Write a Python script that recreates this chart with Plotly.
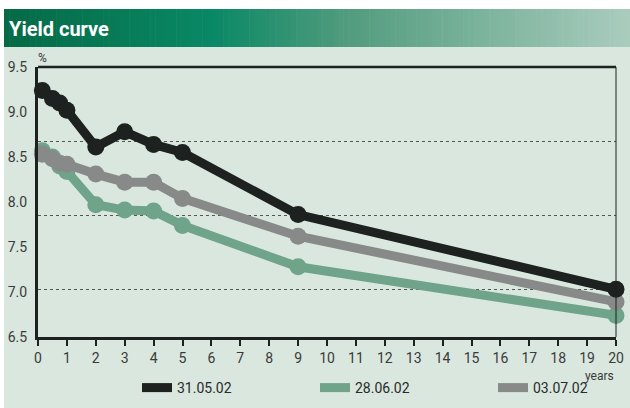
import plotly.graph_objects as go

# Maturities (years) and yields (%) for three dates
maturities = [0.15, 0.5, 0.75, 1, 2, 3, 4, 5, 9, 20]
yield_310502 = [9.24, 9.15, 9.10, 9.02, 8.61, 8.78, 8.64, 8.55, 7.86, 7.03]
yield_280602 = [8.57, 8.50, 8.40, 8.34, 7.97, 7.91, 7.90, 7.74, 7.28, 6.74]
yield_030702 = [8.53, 8.48, 8.43, 8.42, 8.31, 8.22, 8.22, 8.04, 7.62, 6.89]
series_names = ["31.05.02", "28.06.02", "03.07.02"]
series_colors = ["#1d211f", "#6fa38a", "#878a89"]

x_ticks = list(range(0, 21))
y_ticks = [6.5, 7.0, 7.5, 8.0, 8.5, 9.0, 9.5]
grid_levels = [7.03, 7.852, 8.676]

W, H = 630, 408
L, R, T, B = 38, 14, 67, 71
PW, PH = W - L - R, H - T - B
FONT = "Roboto, Noto Sans, sans-serif"


def px(xp):
    return (xp - L) / PW


def py(yp):
    return 1 - (yp - T) / PH


fig = go.Figure()

# data lines: green under grey under black
for name, ys, col in [(series_names[1], yield_280602, series_colors[1]),
                      (series_names[2], yield_030702, series_colors[2]),
                      (series_names[0], yield_310502, series_colors[0])]:
    fig.add_trace(go.Scatter(
        x=maturities, y=ys, mode="lines+markers", name=name,
        line=dict(color=col, width=9), marker=dict(color=col, size=17),
        cliponaxis=False, showlegend=False, hoverinfo="x+y+name"))

# legend entries
for name, col in zip(series_names, series_colors):
    fig.add_trace(go.Scatter(
        x=[None], y=[None], mode="lines", name=name,
        line=dict(color=col, width=9)))

shapes = []
# panel background
shapes.append(dict(type="rect", xref="paper", yref="paper", x0=px(4), x1=px(W + 2),
                   y0=py(H + 2), y1=py(47), fillcolor="#d9e7df", line=dict(width=0), layer="below"))
# header gradient bar
stops = [(0.0, (6, 106, 70)), (0.33, (9, 136, 101)), (0.55, (82, 156, 126)), (1.0, (170, 204, 190))]


def grad(t):
    for (t0, c0), (t1, c1) in zip(stops[:-1], stops[1:]):
        if t <= t1:
            f = (t - t0) / (t1 - t0)
            return "rgb(%d,%d,%d)" % tuple(round(a + (b - a) * f) for a, b in zip(c0, c1))
    return "rgb(%d,%d,%d)" % stops[-1][1]


n = 120
x_start, x_end = 4, W
for i in range(n):
    a = x_start + (x_end - x_start) * i / n
    b = x_start + (x_end - x_start) * (i + 1) / n + 0.6
    shapes.append(dict(type="rect", xref="paper", yref="paper", x0=px(a), x1=px(b),
                       y0=py(47), y1=py(9), fillcolor=grad((i + 0.5) / n),
                       line=dict(width=0), layer="below"))
# plot frame: top and right edges
shapes.append(dict(type="line", xref="paper", yref="paper", x0=0, x1=1, y0=1, y1=1,
                   line=dict(color="#1d211f", width=2.5)))
shapes.append(dict(type="line", xref="paper", yref="paper", x0=1, x1=1, y0=0, y1=1,
                   line=dict(color="#1d211f", width=1)))

annotations = [
    dict(text="<b>Yield curve</b>", xref="paper", yref="paper", x=px(7), y=py(29),
         xanchor="left", yanchor="middle", showarrow=False,
         font=dict(family=FONT, size=20, color="white")),
    dict(text="%", xref="paper", yref="paper", x=px(42), y=py(58),
         xanchor="center", yanchor="middle", showarrow=False,
         font=dict(family=FONT, size=12, color="#3a3a3a")),
    dict(text="years", xref="paper", yref="paper", x=px(599), y=py(376),
         xanchor="center", yanchor="middle", showarrow=False,
         font=dict(family=FONT, size=12, color="#3a3a3a")),
]

fig.update_layout(
    width=W, height=H,
    margin=dict(l=L, r=R, t=T, b=B, pad=0, autoexpand=False),
    paper_bgcolor="white", plot_bgcolor="white",
    shapes=shapes, annotations=annotations,
    showlegend=True,
    legend=dict(orientation="h", x=px(137), y=py(388), xanchor="left", yanchor="middle",
                font=dict(family=FONT, size=14, color="#2a2a2a"),
                bgcolor="rgba(0,0,0,0)", itemwidth=30,
                entrywidth=133, entrywidthmode="pixels"),
    xaxis=dict(range=[0, 20], tickmode="array", tickvals=x_ticks,
               ticktext=[str(v) for v in x_ticks], automargin=False,
               showline=True, linecolor="#1d211f", linewidth=3,
               ticks="outside", ticklen=6, tickwidth=1.5, tickcolor="#1d211f",
               showgrid=False, zeroline=False,
               tickfont=dict(family=FONT, size=14, color="#3a3a3a")),
    yaxis=dict(range=[6.5, 9.5], tickmode="array", tickvals=y_ticks,
               ticktext=["%.1f" % v for v in y_ticks], automargin=False,
               showline=True, linecolor="#1d211f", linewidth=3,
               ticks="", showgrid=False, zeroline=False, ticklabelstandoff=5,
               tickfont=dict(family=FONT, size=14, color="#3a3a3a"),
               minor=dict(tickmode="array", tickvals=grid_levels, showgrid=True,
                          gridcolor="#555555", gridwidth=1, griddash="dot", ticks="")),
)

fig.write_html("out.html")
